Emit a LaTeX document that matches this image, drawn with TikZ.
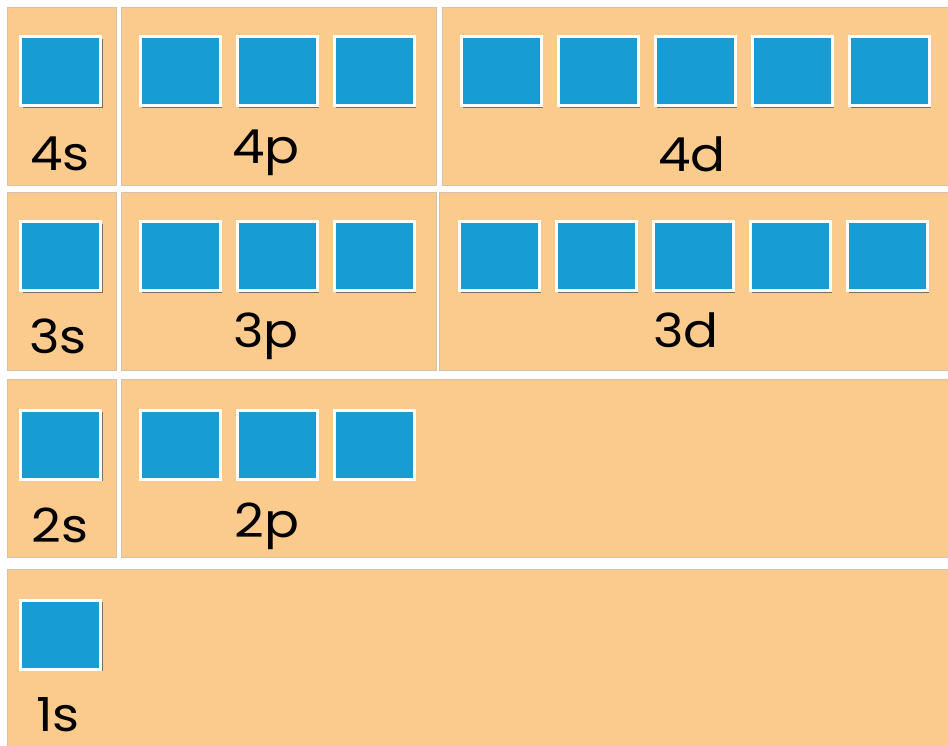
\documentclass[tikz,border=0pt]{standalone}
\usepackage{fontspec}
\setmainfont{Poppins}
\usetikzlibrary{shadows}
\definecolor{panelc}{HTML}{FBCB8E}
\definecolor{paneledge}{HTML}{D2C3AE}
\definecolor{orbc}{HTML}{189DD3}
\definecolor{shadc}{HTML}{7D6F60}
\tikzset{
  panel/.style={fill=panelc, draw=paneledge, line width=0.8pt},
  orb/.style={fill=orbc, draw=white, line width=3pt, minimum width=80pt, minimum height=69pt, inner sep=0pt,
    drop shadow={shadow xshift=2.2pt, shadow yshift=-2.2pt, fill=shadc, opacity=1}},
  lbl/.style={anchor=base, font=\fontsize{47}{47}\selectfont, text=black, inner sep=0pt, text depth=0pt, xscale=1.1}
}
\begin{document}
\begin{tikzpicture}[x=1pt,y=-1pt]
\useasboundingbox[fill=white] (0,0) rectangle (948,746);
% panels
\path[panel] (7,7) rectangle (116,185);
\path[panel] (121,7) rectangle (436,185);
\path[panel] (442,7) rectangle (952,185);
\path[panel] (7,192) rectangle (116,370);
\path[panel] (121,192) rectangle (436,370);
\path[panel] (439,192) rectangle (952,370);
\path[panel] (7,379) rectangle (116,557);
\path[panel] (121,379) rectangle (952,557);
\path[panel] (7,569) rectangle (952,752);
% row 4
\node[orb] (s4) at (60.5,71) {};
\node[orb] (p4a) at (180,71) {};
\node[orb] (p4b) at (277,71) {};
\node[orb] (p4c) at (374,71) {};
\node[orb] (d4a) at (501,71) {};
\node[orb] (d4b) at (598,71) {};
\node[orb] (d4c) at (695,71) {};
\node[orb] (d4d) at (792,71) {};
\node[orb] (d4e) at (889,71) {};
\node[lbl] (l4s) at (60,171) {4s};
\node[lbl] (l4p) at (266,164) {4p};
\node[lbl] (l4d) at (692,172) {4d};
% row 3
\node[orb] (s3) at (60.5,256) {};
\node[orb] (p3a) at (180,256) {};
\node[orb] (p3b) at (277,256) {};
\node[orb] (p3c) at (374,256) {};
\node[orb] (d3a) at (499,256) {};
\node[orb] (d3b) at (596,256) {};
\node[orb] (d3c) at (693,256) {};
\node[orb] (d3d) at (790,256) {};
\node[orb] (d3e) at (887,256) {};
\node[lbl] (l3s) at (58,353) {3s};
\node[lbl] (l3p) at (266,347) {3p};
\node[lbl] (l3d) at (686,347) {3d};
% row 2
\node[orb] (s2) at (60.5,444.5) {};
\node[orb] (p2a) at (180,444.5) {};
\node[orb] (p2b) at (277,444.5) {};
\node[orb] (p2c) at (374,444.5) {};
\node[lbl] (l2s) at (60,542) {2s};
\node[lbl] (l2p) at (267,537) {2p};
% row 1
\node[orb] (s1) at (60.5,634.5) {};
\node[lbl] (l1s) at (58,731) {1s};
\end{tikzpicture}
\end{document}
